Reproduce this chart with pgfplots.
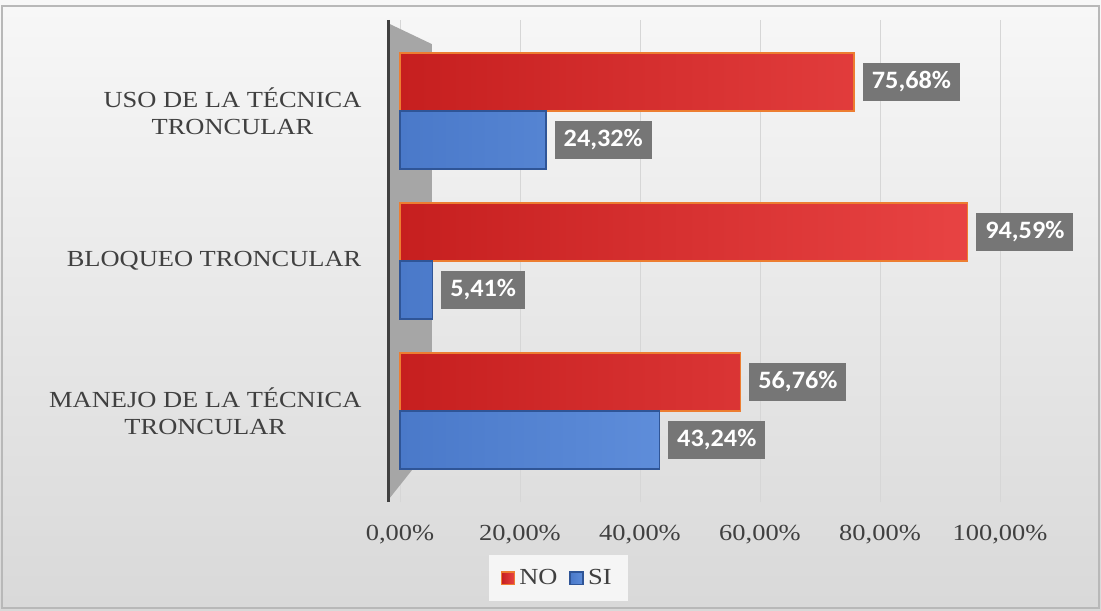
\documentclass[border=0pt]{standalone}
\usepackage{fontspec}
\setmainfont{Liberation Serif}[FakeStretch=1.15]
\newfontfamily\labfont{Carlito}[FakeStretch=1.05]
\usepackage{pgfplots}
\pgfplotsset{compat=1.18}
\definecolor{nofill}{HTML}{D8302E}
\definecolor{noleft}{HTML}{C61F1F}
\definecolor{noright}{HTML}{E84343}
\definecolor{noedge}{HTML}{ED7D31}
\definecolor{sifill}{HTML}{5585D3}
\definecolor{sileft}{HTML}{4A79C9}
\definecolor{siright}{HTML}{5E8DDA}
\definecolor{siedge}{HTML}{2F5597}
\definecolor{lblgray}{HTML}{767676}
\definecolor{txt}{HTML}{404040}
\definecolor{wall}{HTML}{A6A6A6}
\begin{document}
\begin{tikzpicture}
\shade[top color=white!97!black, bottom color=white!85!black] (0,0) rectangle (550.5pt,305pt);
\draw[white!72!black, line width=1pt] (1pt,1pt) rectangle (549.5pt,302pt);
\begin{axis}[
  at={(194pt,54pt)}, anchor=south west, scale only axis,
  width=321pt, height=241pt,
  xmin=-2, xmax=105, ymin=-0.607, ymax=2.607,
  axis y line*=left, axis x line*=bottom,
  x axis line style={draw=none},
  y axis line style={-, line width=1.5pt, draw=txt},
  xtick={0,20,40,60,80,100},
  xticklabels={{0,00\%},{20,00\%},{40,00\%},{60,00\%},{80,00\%},{100,00\%}},
  xtick style={draw=none}, ytick style={draw=none},
  xmajorgrids, major grid style={white!84!black, line width=0.5pt},
  xticklabel style={anchor=base, yshift=-19pt, font=\fontsize{11.5}{13}\selectfont, text=txt},
  ytick={0,1,2},
  yticklabels={{MANEJO DE LA TÉCNICA\\TRONCULAR},{BLOQUEO TRONCULAR},{USO DE LA TÉCNICA\\TRONCULAR}},
  yticklabel style={align=center, font=\fontsize{11.5}{13.5}\selectfont, text=txt, xshift=-5.5pt},
  /pgf/number format/assume math mode=true,
  xbar, bar width=29pt,
  nodes near coords,
  point meta=explicit symbolic,
  every node near coord/.append style={anchor=west, fill=lblgray, text=white,
     font=\labfont\bfseries\fontsize{12.5}{14}\selectfont, minimum height=19pt,
     inner xsep=4.5pt, xshift=4pt},
  legend columns=2,
  legend style={at={(0.265,-0.158)}, anchor=center, fill=white!96!black, draw=none,
     font=\fontsize{11.5}{13}\selectfont, text=txt,
     /tikz/every even column/.append style={column sep=4pt}, inner xsep=6pt, inner ysep=5pt},
]
\fill[wall] (axis cs:-1.7,2.58) -- (axis cs:5.33,2.446) -- (axis cs:5.33,-0.227) -- (axis cs:-1.7,-0.58) -- cycle;
\draw[txt, line width=1.5pt] (axis cs:-2,2.607) -- (axis cs:-2,-0.607);
\addplot[left color=noleft, right color=noright, draw=noedge, line width=0.8pt, bar shift=14.5pt,
  legend image code/.code={\fill[nofill, draw=noedge] (0pt,-3.2pt) rectangle (6.5pt,3.2pt);}]
  coordinates {(56.76,0)[56,76\%] (94.59,1)[94,59\%] (75.68,2)[75,68\%]};
\addlegendentry{NO}
\addplot[left color=sileft, right color=siright, draw=siedge, line width=0.8pt, bar shift=-14.5pt,
  legend image code/.code={\fill[sifill, draw=siedge] (0pt,-3.2pt) rectangle (6.5pt,3.2pt);}]
  coordinates {(43.24,0)[43,24\%] (5.41,1)[5,41\%] (24.32,2)[24,32\%]};
\addlegendentry{SI}
\end{axis}
\end{tikzpicture}
\end{document}
